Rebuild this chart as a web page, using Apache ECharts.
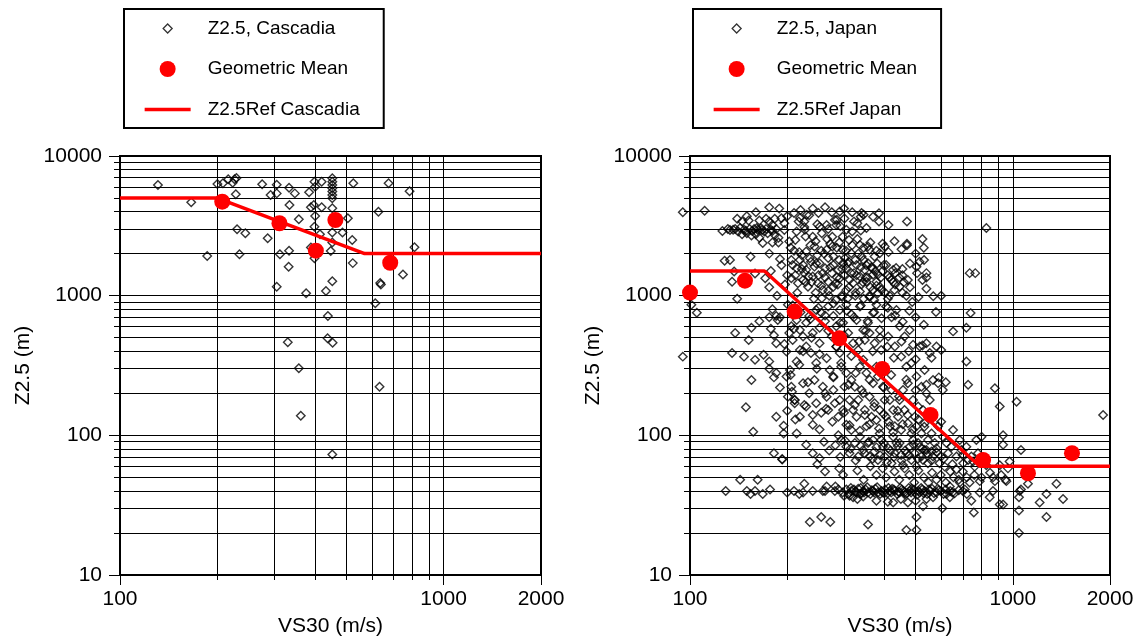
<!DOCTYPE html>
<html>
<head>
<meta charset="utf-8">
<title>Z2.5 vs VS30</title>
<script src="https://cdn.jsdelivr.net/npm/echarts@6/dist/echarts.min.js"></script>
<style>
  html, body { margin: 0; padding: 0; background: #fff; }
  #chart { width: 1141px; height: 643px; }
</style>
</head>
<body>
<div id="chart"></div>
<script>
// [VS30 (m/s), Z2.5 (m)] pairs

const cascadiaPoints = [
  [131,6200],[166,4670],[186,1920],[200,6300],[208,6380],[216,6810],[223,6440],[226,6810],[229,6960],[228,5320],
  [230,2990],[244,2800],[234,1980],[275,6270],[305,6230],[292,5260],[305,5400],[286,2580],[312,1980],[333,2100],
  [332,1610],[305,1160],[333,5930],[347,5400],[334,4460],[357,3520],[376,1040],[384,5500],[399,6550],[401,6030],
  [389,4290],[397,4460],[401,3720],[399,3120],[415,2750],[389,2210],[399,1850],[420,6550],[420,4290],[453,6920],
  [453,6550],[453,6200],[453,5870],[453,5560],[453,5260],[453,4980],[453,4220],[453,2830],[453,2400],[448,2090],
  [453,1270],[433,1080],[439,716],[438,496],[454,461],[330,464],[487,2830],[506,3580],[526,6380],[522,2500],
  [524,1710],[676,6380],[629,3990],[785,5590],[813,2220],[749,1420],[637,1230],[640,1200],[615,883],[357,302],
  [634,223],[362,138],[453,73]
];
const cascadiaMeans = [[207,4710],[311,3300],[403,2100],[463,3480],[684,1720]];
const cascadiaRef = [[100,5000],[200,5000],[570,2000],[2000,2000]];

const japanPoints = [
  // upper left
  [95,3950],[111,4050],[160,3950],[140,3550],[145,3400],[150,3700],[152,3450],[164,3450],[172,3550],[176,3400],[183,3550],[192,3580],
  [136,2960],[141,2880],[147,2960],[150,2800],[158,3000],[162,2960],[166,3040],[170,2880],[174,2800],[178,2960],[126,2900],[133,2950],
  [164,2600],[168,2380],[176,2000],[183,2720],[190,1830],[154,1900],[128,1780],[133,1800],[137,1490],[135,1260],[140,950],[159,1440],[171,1330],
  [138,3000],[143,3050],[149,2920],[153,3000],[156,2900],[161,3050],[167,2950],[172,3000],[180,2900],[185,3000],[196,2950],[131,3000],
  [145,2750],[155,2700],[160,2750],[188,2400],[180,3200],[200,3700],
  // upper middle
  [234,3770],[217,3390],[226,3390],[219,3600],[252,3120],[265,3210],[291,4000],[301,3570],[322,3390],[338,3680],[345,3790],[369,3680],
  [385,3890],[385,3390],[412,3210],[281,3480],[284,3210],[305,2960],[318,2880],[338,2930],
  [203,2440],[214,2880],[227,2960],[240,2645],[256,2800],[276,2645],[297,2645],[311,2500],[336,2310],[356,2250],[387,2015],[401,2250],
  [229,2070],[243,2250],[265,2130],[278,1910],[297,2130],[316,2015],[340,1910],[360,2130],[373,1910],
  [206,1800],[208,1660],[214,1570],[219,1800],[224,1660],[229,1530],[237,1750],[243,1614],[252,1705],[262,1570],[268,1860],[278,1660],
  [288,1530],[298,1705],[305,1570],[316,1446],[328,1660],[336,1370],[348,1530],[356,1705],[369,1410],[378,1260],[387,1160],[405,1660],[426,1530],
  [206,1335],[216,1227],[224,1295],[232,1160],[240,1370],[249,1227],[258,1100],[268,1260],[278,1160],[291,1335],[305,1100],[320,1227],
  [336,1070],[352,1260],[369,1100],[382,1040],[426,1260],[446,1160],[473,1295],
  [455,1550],[503,1610],[531,1800],[525,1295],[540,1450],[514,1750],[470,2300],[525,2550],[567,990],[578,765],[468,1000],[488,900],
  [735,1450],[765,1450],[740,750],[828,3050],
  [210,2100],[222,1950],[235,1850],[248,1950],[260,2000],[272,2350],[285,2200],[290,1800],[302,1850],[310,1750],[325,1800],[332,2000],
  [345,1800],[352,1650],[365,1600],[380,1700],[395,1500],[410,1400],[420,1300],[432,1450],[445,1350],[460,1250],[212,1400],[226,1450],
  [238,1250],[250,1400],[262,1350],[275,1450],[287,1200],[300,1400],[312,1300],[328,1400],[340,1200],[355,1350],[362,1150],[375,1500],
  [390,1350],[402,1050],[415,1000],[430,1100],[245,1050],[256,960],[270,1000],[283,930],[295,1000],[308,960],[325,1000],[345,950],
  [360,1000],[372,930],
  [176,4300],[189,4200],[210,3900],[220,4100],[230,3800],[240,4200],[250,3900],[262,4300],[275,3950],[285,3500],[300,4200],[318,3950],
  [340,3900],[470,3400],[196,3300],[226,3100],[248,3250],[268,3000],[292,3150],[330,3300],[352,3050],
  [180,2400],[188,2600],[205,2200],[212,2500],[218,2050],[228,2650],[236,2300],[245,2450],[255,2100],[266,2550],[276,2250],[290,2400],
  [304,2100],[318,2300],[330,2550],[345,2200],[362,2400],[378,2100],[395,2350],[412,2050],[430,2450],[452,2150],[470,2350],[500,2000],[530,2200],
  [178,1500],[192,1650],[200,1400],[222,1550],[233,1380],[246,1700],[258,1450],[272,1600],[285,1350],[296,1550],[308,1700],[322,1450],
  [338,1600],[350,1350],[368,1550],[382,1420],[398,1650],[415,1350],[435,1580],[455,1400],[480,1700],[505,1450],[540,1350],
  [176,1150],[186,1000],[197,1200],[215,1050],[228,1250],[242,950],[255,1180],[268,1080],[282,1220],[296,980],[311,1150],[326,1050],
  [343,1250],[360,980],[378,1180],[392,1100],[410,950],[432,1200],[455,1050],[480,1150],[510,980],[540,1120],[600,1000],
  // left, below 1000
  [101,860],[105,755],[95,366],[138,540],[135,388],[147,366],[152,482],[155,590],[164,655],[159,347],[176,700],[185,715],[187,670],
  [169,378],[176,338],[155,249],[149,159],[185,136],[157,106],[182,74.5],[193,67.6],[185,279],[195,103],[201,189],[211,170],[214,103],
  [229,85.5],[240,74.5],[252,68.5],[185,457],[178,580],[199,398],[214,338],[204,294],[182,260],[207,205],[211,179],[195,117],
  // middle, 100-1000
  [201,860],[208,755],[214,670],[206,605],[219,568],[229,640],[240,540],[252,590],[255,755],[268,835],[278,715],[284,605],[291,790],
  [305,860],[316,735],[328,670],[336,835],[344,568],[356,640],[369,755],[378,860],[387,568],[405,835],[421,700],[436,790],[446,605],
  [462,510],[479,568],[491,445],[515,432],[540,457],[553,388],[580,432],[600,409],
  [208,482],[219,409],[229,432],[237,388],[246,329],[252,457],[265,357],[271,294],[278,264],[291,388],[294,329],[305,279],[316,249],
  [324,223],[336,310],[344,347],[352,279],[369,236],[382,264],[396,223],[416,179],[426,152],[446,179],[457,211],[473,236],[491,179],
  [509,161],[527,152],[540,200],[553,179],
  [199,264],[206,223],[211,179],[219,136],[229,161],[240,119],[246,170],[255,145],[265,189],[278,211],[291,179],[298,152],[305,119],
  [316,109],[328,136],[336,97.5],[352,116],[369,92.7],[378,129],[387,103],[396,83],[416,116],[426,97.5],[441,136],[446,88],[468,74.5],
  [491,92.7],[515,83],[527,66.7],[540,78.6],[566,70.5],[593,63],[623,88],[653,109],[685,92.7],[718,83],[744,70.5],[771,92.7],[800,97.5],
  [653,555],[718,590],[718,338],[727,230],[880,217],[911,161],[1027,174],[933,100],[933,85.5],[1060,78.6],[1904,140],[977,65],
  [203,540],[224,510],[234,715],[246,790],[262,655],[275,510],[284,432],[298,640],[309,540],[320,457],[332,409],[348,482],[360,540],
  [373,457],[391,409],[411,510],[431,432],[451,366],[468,310],[485,329],[503,264],[521,223],[533,294],[566,249],[587,236],[607,211],
  [224,236],[234,200],[243,249],[258,223],[268,152],[281,170],[288,136],[301,223],[312,179],[320,152],[332,179],[340,211],[348,152],
  [360,189],[365,136],[373,170],[387,152],[401,179],[405,136],[421,211],[431,116],[451,109],[462,152],[473,122],[485,103],[497,136],
  [503,116],[521,103],[533,122],[546,92.7],[560,103],[573,88],[587,116],[607,97.5],[630,74.5],[645,83],[669,70.5],[693,78.6],[702,63],
  [727,66.7],[762,59.7],[780,74.5],
  [294,92.7],[305,83],[312,74.5],[324,88],[332,70.5],[344,78.6],[356,88],[360,70.5],[373,76.5],[382,66.7],[391,92.7],[401,70.5],
  [411,80.8],[421,63],[431,74.5],[436,88],[451,72.4],[457,61.3],[479,83],[485,66.7],[497,74.5],[503,59.7],[509,88],[521,70.5],
  [533,78.6],[546,63],[560,76.5],[580,80.8],[600,70.5],[615,59.7],
  [180,800],[190,700],[208,850],[220,760],[236,680],[250,820],[262,720],[278,880],[292,640],[306,780],[322,700],[338,850],[355,660],
  [372,760],[392,690],[410,820],[432,720],[456,650],[478,780],[500,700],[530,620],
  [182,520],[196,450],[210,580],[224,400],[238,500],[252,380],[268,560],[284,430],[300,520],[316,370],[334,470],[350,560],[368,400],
  [388,500],[408,430],[428,360],[452,470],[476,400],[500,350],[525,440],[560,360],
  [176,300],[190,220],[205,270],[218,320],[232,240],[247,300],[262,200],[278,260],[294,310],[310,230],[326,280],[344,200],[360,250],
  [378,310],[398,220],[420,270],[444,190],[468,250],[500,210],[540,230],[590,260],[620,240],
  [200,150],[212,130],[226,165],[240,140],[252,110],[264,155],[276,125],[288,100],[300,145],[312,118],[324,165],[336,108],[348,140],
  [360,120],[372,160],[385,112],[398,142],[412,125],[426,105],[440,150],[456,120],[472,140],[490,110],[510,130],[532,115],[560,140],[600,125],
  [260,90],[270,78],[282,85],[292,70],[302,92],[314,80],[326,66],[338,84],[348,74],[358,90],[368,68],[378,82],[388,72],[398,88],
  [408,64],[418,78],[428,70],[440,84],[452,66],[464,78],[478,72],[492,86],[508,68],[524,80],[542,74],[560,66],[580,76],[610,68],[650,62],[700,72],
  // 45-60 m
  [193,67],[248,62],[262,55],[290,58],[298,52],[330,56],[345,48],[362,60],[378,52],[395,58],[405,50],[430,55],[445,48],[462,58],
  [478,52],[495,46],[510,56],[530,50],[548,46],[562,54],[580,48],[598,52],[620,46],[640,55],[655,50],[680,48],[700,55],[720,50],
  [735,46],[760,52],[800,50],[850,54],[880,47],[920,52],[950,48],
  // band near 40 m and below
  [129,40],[150,40],[154,38],[159,40],[162,48],[168,38],[177,41],[143,48],[200,39],[210,40],[218,38],[224,39],[235,24],[240,40],
  [226,45],[255,26],[262,40],[265,43],[272,24],[282,43],[297,39],[316,40],[328,39],[336,38],[344,40],[356,39],[369,40],[382,39],
  [396,39],[416,40],[431,40],[446,39],[462,39],[479,40],[497,39],[515,39],[533,40],[553,40],[580,39],[600,40],[623,38],
  [320,36],[344,36.5],[378,34],[410,33.5],[356,23],[473,33],[468,21],[503,21],[503,26],[527,31],[605,30],[566,36],[638,36],[638,43],
  [685,46],[669,57],[744,34],[757,28],[790,39],[848,36],[868,50],[911,32],[933,32],[911,61],[966,58],[955,47],[1050,40],[1060,41],
  [1045,29],[1045,20],[1114,45],[1211,33],[1271,38],[1271,26],[1365,45],[1431,35],[1045,36],[868,40],[790,47],[828,61],[753,65],
  [305,41],[310,38],[322,41],[332,41.5],[340,38.5],[350,41],[362,38],[375,41.5],[388,38],[402,41],[409,38.5],[423,41.5],[438,38],
  [453,41],[470,38.5],[486,41.5],[505,37.5],[524,41],[543,38],[562,41.5],[590,40.5],[610,38],[640,40],[660,38.5],[700,40],[720,38],
  [258,40],[281,40],[288,41],[300,37],[312,37],[426,33],[450,35],[500,34],[540,35],[330,35],
  [315,42],[325,39.5],[338,42],[346,39],[354,42.5],[366,40.5],[372,39],[380,42.5],[392,40],[400,38.5],[412,42],[420,39],[428,41],
  [442,39.5],[448,42],[458,40],[466,38],[476,42],[484,39],[494,41],[510,40],[520,42],[530,38.5],[550,41],[570,38.5],[585,41.5],
  [620,41],[650,39],[680,40.5],[710,41]
];
const japanMeans = [[100,1052],[148,1280],[211,769],[290,495],[394,299],[556,140],[809,66.7],[1114,53.5],[1525,74.5]];
const japanRef = [[100,1500],[170,1500],[790,60],[2000,60]];

// ticks / grid lines
const xTicks = [100, 200, 300, 400, 500, 600, 700, 800, 900, 1000, 2000];
const xLabels = [100, 1000, 2000];
const yTicks = [10, 20, 30, 40, 50, 60, 70, 80, 90,
  100, 200, 300, 400, 500, 600, 700, 800, 900,
  1000, 2000, 3000, 4000, 5000, 6000, 7000, 8000, 9000, 10000];
const yLabels = [10, 100, 1000, 10000];

const FONT = '"Liberation Sans", Arial, Helvetica, sans-serif';
const BLACK = '#000';
const RED = '#ff0000';

const chart = echarts.init(document.getElementById('chart'));

function mainX(g) {
  return {
    type: 'log', logBase: 10, gridIndex: g, min: 100, max: 2000, position: 'bottom',
    name: 'VS30 (m/s)', nameLocation: 'middle', nameGap: 41,
    nameTextStyle: { fontFamily: FONT, fontSize: 21, color: BLACK },
    axisLine: { show: true, lineStyle: { color: BLACK, width: 2 } },
    axisTick: { show: true, length: 5, customValues: xTicks, lineStyle: { color: BLACK, width: 1 } },
    axisLabel: { customValues: xLabels, margin: 14, fontFamily: FONT, fontSize: 21, color: BLACK,
      formatter: v => String(Math.round(v)) },
    splitLine: { show: true, lineStyle: { color: BLACK, width: 1 } },
    minorTick: { show: false }
  };
}
function majorX(g) {
  return {
    type: 'log', logBase: 10, gridIndex: g, min: 100, max: 2000, position: 'bottom',
    axisLine: { show: false }, axisLabel: { show: false }, splitLine: { show: false },
    axisTick: { show: true, length: 10, customValues: xLabels, lineStyle: { color: BLACK, width: 1 } }
  };
}
function mainY(g) {
  return {
    type: 'log', logBase: 10, gridIndex: g, min: 10, max: 10000, position: 'left',
    name: 'Z2.5 (m)', nameLocation: 'middle', nameGap: 86,
    nameTextStyle: { fontFamily: FONT, fontSize: 21, color: BLACK },
    axisLine: { show: true, lineStyle: { color: BLACK, width: 2 } },
    axisTick: { show: true, length: 6, customValues: yTicks, lineStyle: { color: BLACK, width: 1 } },
    axisLabel: { customValues: yLabels, margin: 18, fontFamily: FONT, fontSize: 21, color: BLACK,
      formatter: v => String(Math.round(v)) },
    splitLine: { show: true, lineStyle: { color: BLACK, width: 1 } },
    minorTick: { show: false }
  };
}
function majorY(g) {
  return {
    type: 'log', logBase: 10, gridIndex: g, min: 10, max: 10000, position: 'left',
    axisLine: { show: false }, axisLabel: { show: false }, splitLine: { show: false },
    axisTick: { show: true, length: 11, customValues: yLabels, lineStyle: { color: BLACK, width: 1 } }
  };
}

// legend icons drawn in a 70x16 box (the corner moves only fix the box)
const ICON_DIAMOND = 'path://M0 0M70 16M35 3.5L39.5 8L35 12.5L30.5 8Z';
const ICON_DOT = 'path://M0 0M70 16M27 8A8 8 0 1 1 43 8A8 8 0 1 1 27 8Z';
const ICON_LINE = 'path://M0 0M70 16M12 6.25L58 6.25L58 9.75L12 9.75Z';

function legendFor(left, pointsName, refName) {
  return {
    left: left, top: 9, orient: 'vertical',
    itemWidth: 70, itemHeight: 16, itemGap: 21.5,
    padding: [10, 24, 9, 8],
    borderColor: BLACK, borderWidth: 2, backgroundColor: '#fff',
    selectedMode: false,
    textStyle: { fontFamily: FONT, fontSize: 19, color: BLACK },
    data: [
      { name: pointsName, icon: ICON_DIAMOND, itemStyle: { borderWidth: 1.3 } },
      { name: 'Geometric Mean', icon: ICON_DOT, itemStyle: { borderWidth: 0 } },
      { name: refName, icon: ICON_LINE, itemStyle: { borderWidth: 0 } }
    ]
  };
}

function panelSeries(g, pointsName, points, means, refName, ref) {
  return [
    {
      name: pointsName, type: 'scatter', xAxisIndex: 2 * g, yAxisIndex: 2 * g,
      data: points, symbol: 'diamond', symbolSize: 8.5, clip: false,
      itemStyle: { color: 'rgba(0,0,0,0)', borderColor: BLACK, borderWidth: 1.4 },
      emphasis: { disabled: true }, z: 3
    },
    {
      name: refName, type: 'line', xAxisIndex: 2 * g, yAxisIndex: 2 * g,
      data: ref, symbol: 'none',
      lineStyle: { color: RED, width: 3.5 }, itemStyle: { color: RED },
      emphasis: { disabled: true }, z: 4
    },
    {
      name: 'Geometric Mean', type: 'scatter', xAxisIndex: 2 * g, yAxisIndex: 2 * g,
      data: means, symbol: 'circle', symbolSize: 16, clip: false,
      itemStyle: { color: RED, opacity: 1 },
      emphasis: { disabled: true }, z: 5
    }
  ];
}

const option = {
  animation: false,
  backgroundColor: '#fff',
  legend: [
    legendFor(124, 'Z2.5, Cascadia', 'Z2.5Ref Cascadia'),
    legendFor(693, 'Z2.5, Japan', 'Z2.5Ref Japan')
  ],
  grid: [
    { left: 120, top: 156, width: 421, height: 419, show: true, borderColor: BLACK, borderWidth: 2 },
    { left: 690, top: 156, width: 420, height: 419, show: true, borderColor: BLACK, borderWidth: 2 }
  ],
  xAxis: [mainX(0), majorX(0), mainX(1), majorX(1)],
  yAxis: [mainY(0), majorY(0), mainY(1), majorY(1)],
  series: [
    ...panelSeries(0, 'Z2.5, Cascadia', cascadiaPoints, cascadiaMeans, 'Z2.5Ref Cascadia', cascadiaRef),
    ...panelSeries(1, 'Z2.5, Japan', japanPoints, japanMeans, 'Z2.5Ref Japan', japanRef)
  ]
};

chart.setOption(option);
window.addEventListener('resize', chart.resize);
</script>
</body>
</html>
